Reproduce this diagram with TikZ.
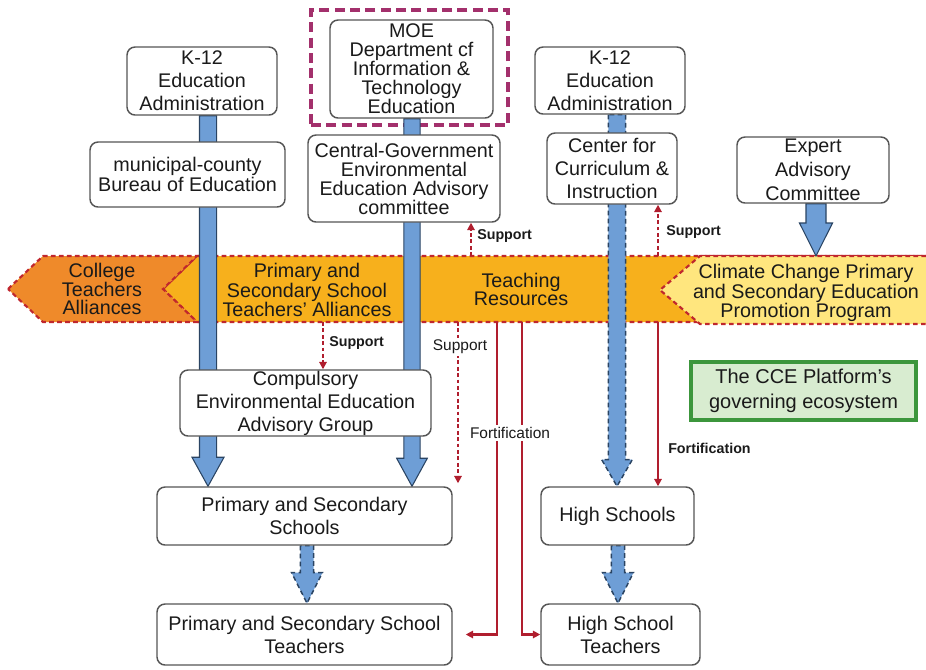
\documentclass[tikz,border=0pt]{standalone}
\usepackage{fontspec}
\setmainfont{Liberation Sans}
\usetikzlibrary{arrows.meta,calc}
\pgfdeclarelayer{bandlayer}
\pgfdeclarelayer{arrowlayer}
\pgfsetlayers{bandlayer,arrowlayer,main}

\definecolor{boxline}{HTML}{555555}
\definecolor{bandred}{HTML}{C0272D}
\definecolor{redarrow}{HTML}{B01E2E}
\definecolor{gold}{HTML}{F7B01C}
\definecolor{collegeorange}{HTML}{EF8A2A}
\definecolor{lightyellow}{HTML}{FFE67E}
\definecolor{bluefill}{HTML}{6E9ED6}
\definecolor{blueline}{HTML}{2A4463}
\definecolor{moepurple}{HTML}{A3306C}
\definecolor{greenfill}{HTML}{D8ECD0}
\definecolor{greenline}{HTML}{3C963C}
\definecolor{textdark}{HTML}{1A1A1A}

% #1 style, #2 start, #3 tip, #4 shaft half width, #5 head half width, #6 head length
\newcommand\blockarrowdraw[6]{%
  \path[#1] let \p1=(#2), \p2=(#3) in
    (\x1-#4,\y1) -- (\x1-#4,\y2+#6) -- (\x1-#5,\y2+#6) -- (\x1,\y2)
    -- (\x1+#5,\y2+#6) -- (\x1+#4,\y2+#6) -- (\x1+#4,\y1) -- cycle;}

\tikzset{
  box/.style={draw=boxline, line width=1.1pt, rounded corners=6pt, fill=white,
    align=center, inner sep=0pt, text=textdark, font=\fontsize{14.8}{17.25}\selectfont},
  tightbox/.style={box, font=\fontsize{14.8}{14.25}\selectfont},
  bandshape/.style={draw=bandred, line width=1.6pt, dash pattern=on 3.5pt off 2.5pt},
  bandtext/.style={align=center, text=textdark, inner sep=0pt, font=\fontsize{14.8}{13.5}\selectfont},
  bluearrow/.style={fill=bluefill, draw=blueline, line width=0.8pt},
  bluedashed/.style={fill=bluefill, draw=blueline, line width=1.1pt, dash pattern=on 3.5pt off 2.5pt},
  supp/.style={color=redarrow, line width=1.5pt, dash pattern=on 2.8pt off 2pt, -{Triangle[length=5.5pt,width=5.5pt]}},
  fort/.style={color=redarrow, line width=1.6pt, -{Triangle[length=5.5pt,width=5.5pt]}},
  lbl/.style={font=\fontsize{10.7}{12}\selectfont\bfseries, text=textdark, inner sep=0pt, anchor=west},
  lblreg/.style={font=\fontsize{11.6}{13}\selectfont, text=textdark, fill=white, inner sep=1.5pt},
  moeframe/.style={draw=moepurple, line width=3pt, dash pattern=on 7.5pt off 4pt},
}

\begin{document}
\begin{tikzpicture}[x=0.75pt, y=-0.75pt]
\useasboundingbox (0,0) rectangle (926,669);

% ---------------- band ----------------
\begin{pgfonlayer}{bandlayer}
  \fill[gold] (163,289) -- (197,256) -- (926,256) -- (926,322) -- (197,322) -- cycle;
  \draw[bandshape] (163,289) -- (197,256) -- (926,256);
  \draw[bandshape] (163,289) -- (197,322) -- (926,322);
  \fill[lightyellow] (660,290) -- (700,256) -- (926,256) -- (926,324) -- (700,324) -- cycle;
  \draw[bandshape] (926,256) -- (700,256) -- (660,290) -- (700,324) -- (926,324);
  \filldraw[fill=collegeorange, bandshape] (8,289) -- (43,256) -- (197,256) -- (163,289) -- (197,322) -- (43,322) -- cycle;
  \node[moeframe, minimum width=147.75pt, minimum height=86.25pt] (moef) at (409.5,67.5) {};
\end{pgfonlayer}

\node[bandtext] (college) at (102,289) {College\\Teachers\\Alliances};
\node[bandtext] (psalliance) at (307,290) {Primary and\\Secondary School\\Teachers' Alliances};
\node[bandtext] (teachres) at (521,289) {Teaching\\Resources};
\node[bandtext] (climate) at (806,293) {Climate Change Primary\\and Secondary Education\\Promotion Program};

% ---------------- boxes ----------------
\node[box, minimum width=112.5pt, minimum height=51pt] (k12l) at (202,81) {K-12\\Education\\Administration};
\node[tightbox, minimum width=122.25pt, minimum height=73.5pt] (moe) at (411.5,69) {MOE\\Department cf\\Information \&\\Technology\\Education};
\node[box, minimum width=112.5pt, minimum height=50.25pt] (k12r) at (610,80.5) {K-12\\Education\\Administration};
\node[box, font=\fontsize{14.8}{15}\selectfont, minimum width=146.25pt, minimum height=48.75pt] (muni) at (187.5,174.5) {municipal-county\\Bureau of Education};
\node[tightbox, minimum width=144pt, minimum height=65.25pt] (cgov) at (404,178.5) {Central-Government\\Environmental\\Education Advisory\\committee};
\node[box, minimum width=97.5pt, minimum height=53.25pt] (ccurr) at (612,168.5) {Center for\\Curriculum \&\\Instruction};
\node[box, font=\fontsize{14.8}{18}\selectfont, minimum width=114pt, minimum height=49.5pt] (expert) at (813,170) {Expert\\Advisory\\Committee};
\node[box, minimum width=188.25pt, minimum height=49.5pt] (comp) at (305.5,403) {Compulsory\\Environmental Education\\Advisory Group};
\node[box, minimum width=221.25pt, minimum height=43.5pt] (pss) at (304.5,516) {Primary and Secondary\\Schools};
\node[box, minimum width=114.75pt, minimum height=43.5pt] (hs) at (617.5,516) {High Schools};
\node[box, minimum width=221.25pt, minimum height=45.75pt] (pst) at (304.5,634.5) {Primary and Secondary School\\Teachers};
\node[box, minimum width=119.25pt, minimum height=45.75pt] (hst) at (620.5,634.5) {High School\\Teachers};
\node[draw=greenline, fill=greenfill, line width=2.8pt, align=center, inner sep=0pt, text=textdark,
      font=\fontsize{15}{18.5}\selectfont, minimum width=168.75pt, minimum height=43.5pt] (green) at (803.5,391)
      {The CCE Platform's\\governing ecosystem};

% ---------------- blue block arrows ----------------
\coordinate (cL) at (208,0);
\coordinate (cM) at (412,0);
\coordinate (cR) at (617,0);
\coordinate (cP) at (307,0);
\coordinate (cQ) at (618,0);
\coordinate (ex) at (816,256);
\begin{pgfonlayer}{arrowlayer}
  \blockarrowdraw{bluearrow}{cL |- k12l.south}{cL |- pss.north}{6.4pt}{12pt}{21.75pt}
  \blockarrowdraw{bluearrow}{cM |- moe.south}{cM |- pss.north}{6.1pt}{11.5pt}{21pt}
  \blockarrowdraw{bluedashed}{cR |- k12r.south}{cR |- hs.north}{6.4pt}{11.5pt}{20pt}
  \blockarrowdraw{bluedashed}{cP |- pss.south}{cP |- pst.north}{5pt}{11.6pt}{23pt}
  \blockarrowdraw{bluedashed}{cQ |- hs.south}{cQ |- hst.north}{5pt}{11.6pt}{23pt}
  \blockarrowdraw{bluearrow}{ex |- expert.south}{ex}{7.5pt}{12.4pt}{24.75pt}
\end{pgfonlayer}

% ---------------- red connectors ----------------
\coordinate (s1) at (471,256);
\coordinate (s2) at (658,256);
\coordinate (s3) at (323,322);
\coordinate (s4) at (458,322);
\coordinate (f1) at (497,322);
\coordinate (f2) at (522,322);
\coordinate (f3) at (658,322);

\draw[supp] (s1) -- (s1 |- cgov.south);
\draw[supp] (s2) -- (s2 |- ccurr.south);
\draw[supp] (s3) -- (s3 |- comp.north);
\draw[supp] (s4) -- ($(s4 |- pss.north)+(0,-3)$);
\draw[fort, shorten >=9.75pt] (f1) |- (pst.east);
\draw[fort] (f2) |- (hst.west);
\draw[fort] (f3) -- (f3 |- hs.north);

\node[lbl] (lsup1) at (477,236) {Support};
\node[lbl] (lsup2) at (666,232) {Support};
\node[lbl] (lsup3) at (329,343) {Support};
\node[lblreg] (lsup4) at (460,347) {Support};
\node[lblreg] (lfort1) at (510,433) {Fortification};
\node[lbl] (lfort2) at (668,448) {Fortification};
\end{tikzpicture}
\end{document}
